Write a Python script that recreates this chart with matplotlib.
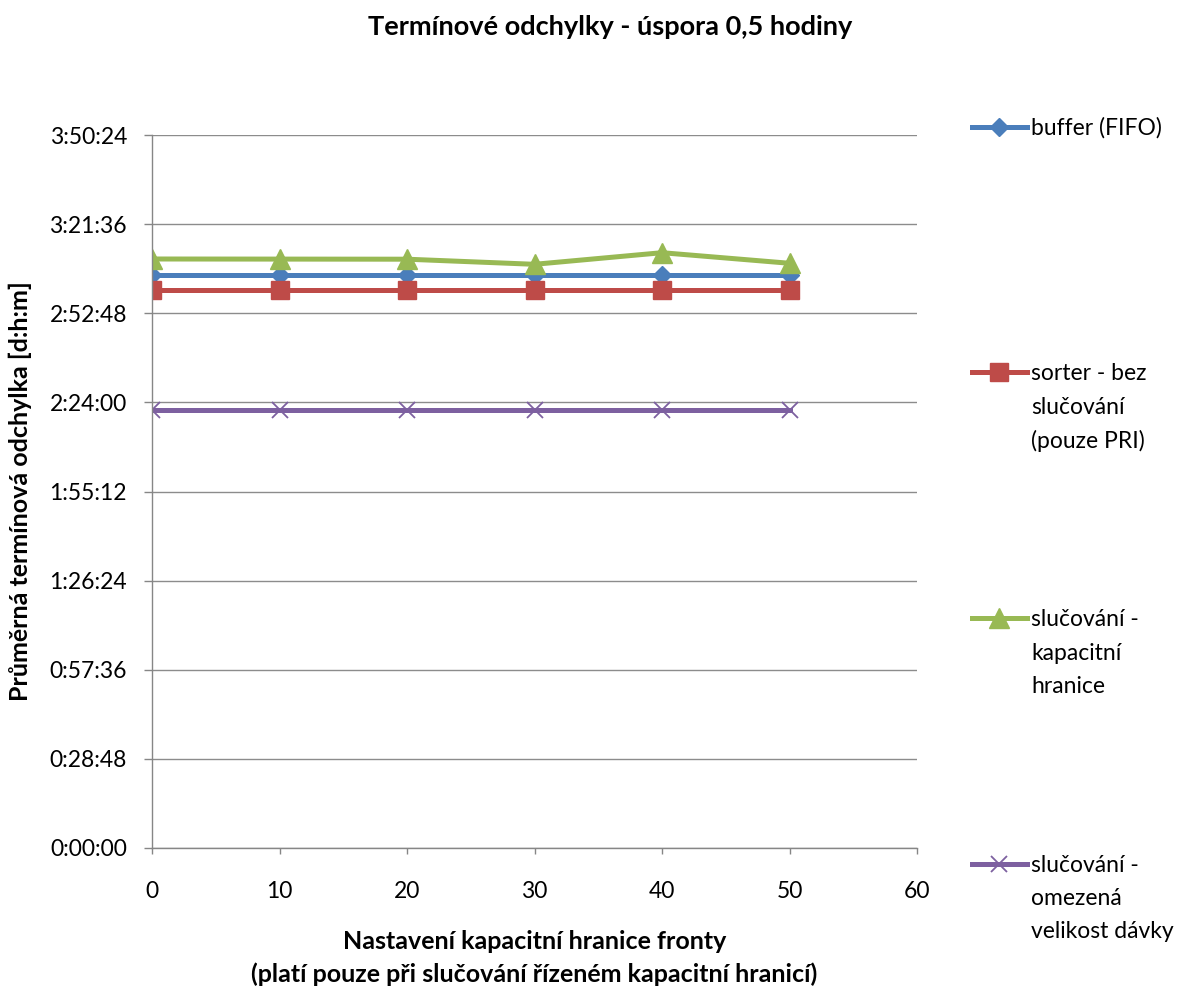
import matplotlib
matplotlib.use("Agg")
import matplotlib.pyplot as plt
from matplotlib.lines import Line2D
from matplotlib.ticker import FuncFormatter, MultipleLocator

plt.rcParams['font.family'] = ['Lato', 'DejaVu Sans']

# queue capacity limit settings
capacity = [0, 10, 20, 30, 40, 50]

# mean due-date deviation per strategy [h:mm:ss]
buffer_fifo = ["3:05:09", "3:05:09", "3:05:09", "3:05:09", "3:05:09", "3:05:09"]
sorter_pri = ["3:00:19", "3:00:19", "3:00:19", "3:00:19", "3:00:19", "3:00:19"]
merge_capacity = ["3:10:20", "3:10:18", "3:10:16", "3:08:37", "3:12:22", "3:08:57"]
merge_batch = ["2:21:26", "2:21:26", "2:21:26", "2:21:26", "2:21:26", "2:21:26"]

series_labels = ["buffer (FIFO)",
                 "sorter - bez\nslučování\n(pouze PRI)",
                 "slučování -\nkapacitní\nhranice",
                 "slučování -\nomezená\nvelikost dávky"]


def to_seconds(s):
    h, m, sec = (int(p) for p in s.split(":"))
    return h * 3600 + m * 60 + sec


def fmt_time(v, pos=None):
    v = int(round(v))
    return f"{v // 3600}:{(v % 3600) // 60:02d}:{v % 60:02d}"


styles = [
    dict(color="#4A7EBB", marker="D", markersize=9),
    dict(color="#BE4B48", marker="s", markersize=13),
    dict(color="#98B954", marker="^", markersize=14),
    dict(color="#7D60A0", marker="x", markersize=12, markeredgewidth=1.3),
]
all_series = [buffer_fifo, sorter_pri, merge_capacity, merge_batch]

W, H = 1185, 986
fig = plt.figure(figsize=(W / 100, H / 100), dpi=100)
ax = fig.add_axes([152 / W, 1 - 848 / H, (917 - 152) / W, (848 - 135) / H])

for vals, st in zip(all_series, styles):
    ax.plot(capacity, [to_seconds(v) for v in vals], linewidth=3.6, **st)

step = 1728
ax.set_ylim(0, 8 * step)
ax.yaxis.set_major_locator(MultipleLocator(step))
ax.yaxis.set_major_formatter(FuncFormatter(fmt_time))
ax.set_xlim(0, 60)
ax.xaxis.set_major_locator(MultipleLocator(10))
ax.grid(axis="y", color="#8C8C8C", linewidth=1.0)
ax.set_axisbelow(True)
for side in ("top", "right"):
    ax.spines[side].set_visible(False)
for side in ("left", "bottom"):
    ax.spines[side].set_color("#868686")
    ax.spines[side].set_linewidth(1.0)
ax.tick_params(axis="both", colors="#868686", labelcolor="black", labelsize=16.5,
               width=1.0, direction="out")
ax.tick_params(axis="x", length=4.5, pad=19)
ax.tick_params(axis="y", length=6, pad=12)
for lbl in ax.get_xticklabels() + ax.get_yticklabels():
    lbl.set_clip_on(False)

fig.text(610 / W, 1 - 35 / H, "Termínové odchylky - úspora 0,5 hodiny",
         ha="center", va="baseline", fontsize=19.5, fontweight="bold")
fig.text(20 / W, 1 - 491.5 / H, "Průměrná termínová odchylka [d:h:m]",
         ha="center", va="center", rotation=90, fontsize=18, fontweight="bold")
fig.text(534.5 / W, 1 - 958 / H,
         "Nastavení kapacitní hranice fronty\n(platí pouze při slučování řízeném kapacitní hranicí)",
         ha="center", va="center", fontsize=18, fontweight="bold", linespacing=1.45)

# legend entries placed down the right margin, one text row per label line
entry_y = [127, 372.5, 618, 863.5]
row_gap = 33.5
for label, st, y in zip(series_labels, styles, entry_y):
    yf = 1 - y / H
    fig.add_artist(Line2D([972 / W, 1027 / W], [yf, yf], linewidth=3.6,
                          transform=fig.transFigure, color=st["color"]))
    fig.add_artist(Line2D([999 / W], [yf], transform=fig.transFigure, linestyle="none",
                          **st))
    for i, line in enumerate(label.split("\n")):
        fig.text(1031 / W, 1 - (y + 8 + i * row_gap) / H, line, ha="left",
                 va="baseline", fontsize=16.5)

fig.savefig("out.png", dpi=100)
